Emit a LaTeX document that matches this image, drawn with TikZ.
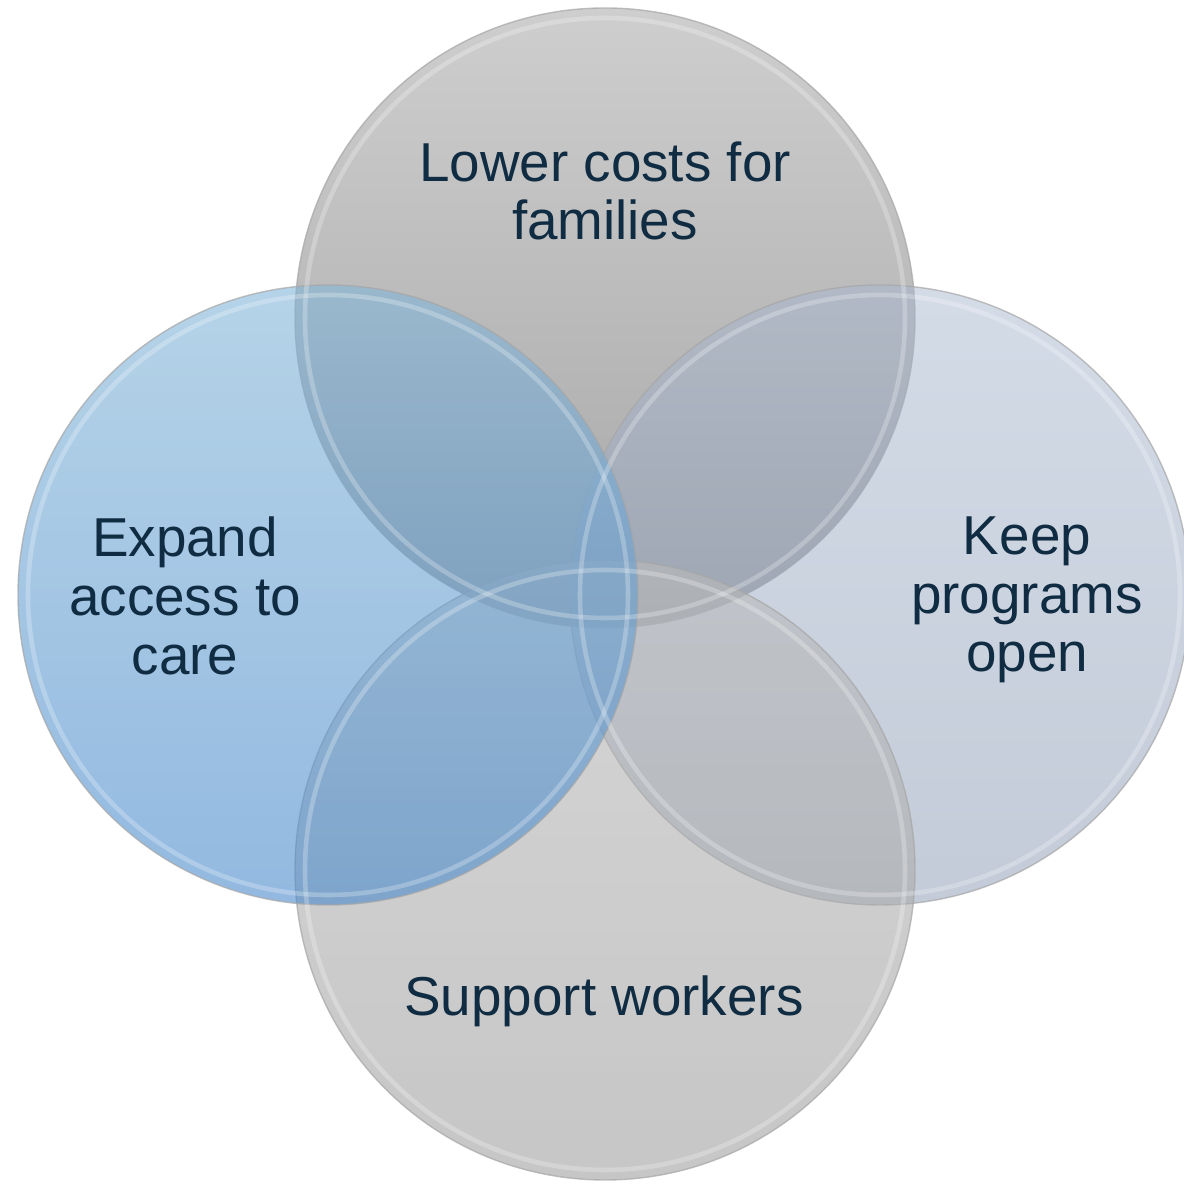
\documentclass[tikz,border=0pt]{standalone}
\usepackage{fontspec}
\setmainfont{Liberation Sans}
\usetikzlibrary{positioning}
\definecolor{inkblue}{RGB}{16,44,66}
\definecolor{topfirst}{RGB}{206,206,206}
\definecolor{toplast}{RGB}{166,166,166}
\definecolor{leftfirst}{RGB}{132,182,216}
\definecolor{leftlast}{RGB}{74,138,204}
\definecolor{rightfirst}{RGB}{168,184,208}
\definecolor{rightlast}{RGB}{136,152,178}
\definecolor{botfirst}{RGB}{186,186,186}
\definecolor{botlast}{RGB}{160,160,160}
\newcommand{\vennfont}{\fontsize{15.6pt}{16.7pt}\selectfont}
\newcommand{\glossring}[1]{\draw[white, opacity=.25, line width=1.3pt] (#1.center) circle [radius=3.0cm];}
\tikzstyle{venn}=[circle, minimum size=6.2cm, inner sep=0, outer sep=0, draw=gray!70, draw opacity=.7, line width=.4pt]
\tikzstyle{vennlabel}=[font=\vennfont, text=inkblue, align=center, inner sep=0]

\begin{document}
\begin{tikzpicture}
\useasboundingbox (0,0) rectangle (11.84,11.84);

\node[venn, top color=topfirst, bottom color=toplast] (costs) at (6.05, 8.66) {};
\node[venn, top color=rightfirst, bottom color=rightlast, fill opacity=.5] (open) at (8.80, 5.89) {};
\node[venn, top color=botfirst, bottom color=botlast, fill opacity=.6] (workers) at (6.05, 3.14) {};
\node[venn, top color=leftfirst, bottom color=leftlast, fill opacity=.6] (access) at (3.28, 5.89) {};

\foreach \c in {costs, open, workers, access}
{
\glossring{\c}
}

\node[vennlabel] (coststxt) at (6.05, 9.93) {Lower costs for\\families};
\node[vennlabel] (accesstxt) at (1.85, 5.88) {Expand\\access to\\care};
\node[vennlabel] (opentxt) at (10.27, 5.84) {Keep\\programs\\open};
\node[vennlabel] (workerstxt) at (6.04, 1.83) {Support workers};
\end{tikzpicture}
\end{document}
